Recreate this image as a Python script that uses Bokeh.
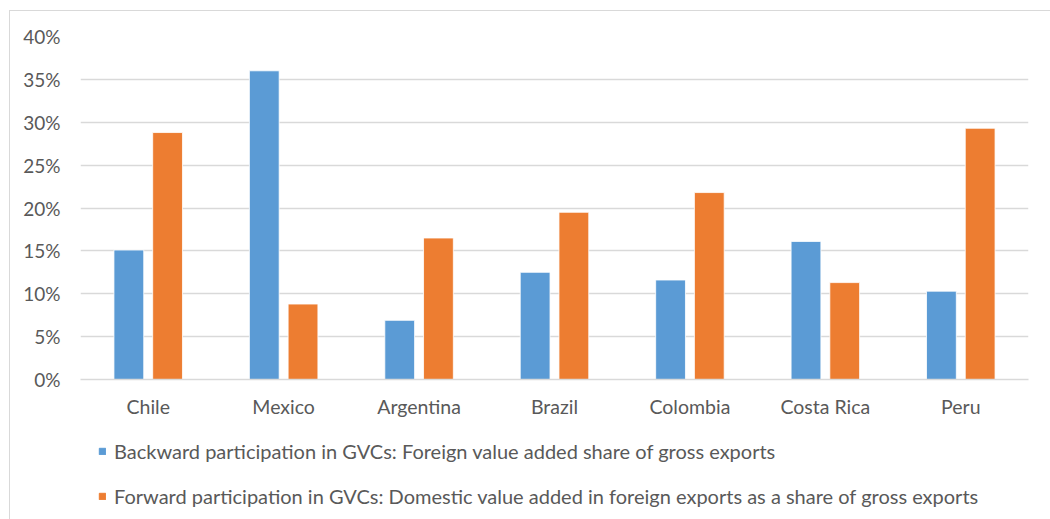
from bokeh.plotting import figure
from bokeh.layouts import column
from bokeh.models import (ColumnDataSource, Range1d, FactorRange, Legend, LegendItem,
                          NumeralTickFormatter, FixedTicker)
from bokeh.transform import dodge
from bokeh.embed import file_html
from bokeh.resources import INLINE

# GVC participation by country, share of gross exports
countries = ["Chile", "Mexico", "Argentina", "Brazil", "Colombia", "Costa Rica", "Peru"]
backward = [0.151, 0.360, 0.069, 0.125, 0.116, 0.161, 0.103]
forward = [0.288, 0.088, 0.165, 0.195, 0.218, 0.113, 0.293]
y_ticks = [0.0, 0.05, 0.10, 0.15, 0.20, 0.25, 0.30, 0.35, 0.40]

backward_label = "Backward participation in GVCs: Foreign value added share of gross exports"
forward_label = "Forward participation in GVCs: Domestic value added in foreign exports as a share of gross exports"

BLUE = "#5B9BD5"
ORANGE = "#ED7D31"
GRID = "#D9D9D9"
TEXT = "#595959"
FONT = "Lato"

source = ColumnDataSource(dict(country=countries, backward=backward, forward=forward))
x_range = FactorRange(*countries, range_padding=0)

# main bar chart
p = figure(
    width=1040, height=419,
    x_range=x_range,
    y_range=Range1d(0, 0.40),
    output_backend="svg", toolbar_location=None,
    min_border_left=70, min_border_right=22, min_border_top=25, min_border_bottom=51,
)
p.outline_line_color = None
p.background_fill_color = "white"
p.border_fill_color = "white"

bar_style = dict(width=0.22, source=source, line_color="white", line_width=0.8)
p.vbar(x=dodge("country", -0.143, range=x_range), top="backward", fill_color=BLUE, **bar_style)
p.vbar(x=dodge("country", 0.143, range=x_range), top="forward", fill_color=ORANGE, **bar_style)

p.yaxis.ticker = FixedTicker(ticks=y_ticks)
p.yaxis.formatter = NumeralTickFormatter(format="0%")
p.yaxis.axis_line_color = None
p.yaxis.major_tick_line_color = None
p.yaxis.minor_tick_line_color = None
p.yaxis.major_label_standoff = 14
p.yaxis.major_label_text_font = FONT
p.yaxis.major_label_text_font_size = "19px"
p.yaxis.major_label_text_color = TEXT

p.xaxis.axis_line_color = GRID
p.xaxis.axis_line_width = 1.5
p.xaxis.major_tick_line_color = None
p.xaxis.minor_tick_line_color = None
p.xaxis.major_label_standoff = 9
p.xaxis.major_label_text_font = FONT
p.xaxis.major_label_text_font_size = "19.5px"
p.xaxis.major_label_text_color = TEXT

p.xgrid.grid_line_color = None
p.ygrid.grid_line_color = GRID
p.ygrid.grid_line_width = 1.5

# legend strip under the chart; the series are repeated here only so the
# legend has renderers to key from (the y range keeps the bars out of view)
pl = figure(
    width=1040, height=89,
    x_range=x_range, y_range=Range1d(1, 2),
    x_axis_type=None, y_axis_type=None,
    output_backend="svg", toolbar_location=None, min_border=0,
)
pl.outline_line_color = None
pl.grid.visible = False
pl.border_fill_color = "white"
key_back = pl.vbar(x=dodge("country", -0.143, range=x_range), top="backward",
                   fill_color=BLUE, line_color=BLUE, width=0.22, source=source)
key_fwd = pl.vbar(x=dodge("country", 0.143, range=x_range), top="forward",
                  fill_color=ORANGE, line_color=ORANGE, width=0.22, source=source)

legend = Legend(
    items=[LegendItem(label=backward_label, renderers=[key_back]),
           LegendItem(label=forward_label, renderers=[key_fwd])],
    location=(18, 11),
    orientation="vertical",
    glyph_width=8, glyph_height=8,
    label_standoff=8, label_height=20, spacing=21,
    padding=0, margin=0,
    border_line_color=None, background_fill_alpha=0,
    label_text_font=FONT, label_text_font_size="20px", label_text_color=TEXT,
)
pl.add_layout(legend, "center")

page = column(p, pl, spacing=0)
page.styles = {"margin-left": "9px", "margin-top": "10px",
               "border-left": "1px solid #D9D9D9", "border-top": "1px solid #D9D9D9"}

open("out.html", "w").write(file_html(page, INLINE))
